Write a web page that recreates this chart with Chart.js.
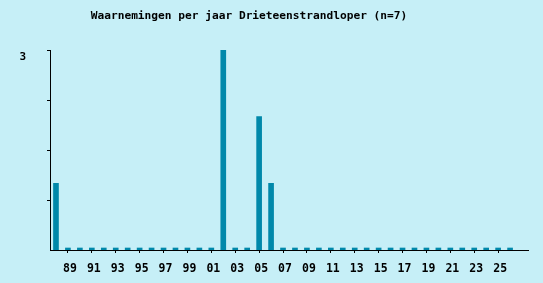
<!DOCTYPE html>
<html>
<head>
<meta charset="utf-8">
<script src="https://cdn.jsdelivr.net/npm/chart.js@4"></script>
<style>
html,body{margin:0;padding:0;background:#c6eff7;}
#wrap{width:543px;height:283px;position:relative;}
</style>
</head>
<body>
<div id="wrap"><canvas id="c" width="543" height="283"></canvas></div>
<script>
const titleText = 'Waarnemingen per jaar Drieteenstrandloper (n=7)';
const years = ['88','89','90','91','92','93','94','95','96','97','98','99','00','01','02','03','04','05','06','07','08','09','10','11','12','13','14','15','16','17','18','19','20','21','22','23','24','25','26','27'];
const counts = [1,0,0,0,0,0,0,0,0,0,0,0,0,0,3,0,0,2,1,0,0,0,0,0,0,0,0,0,0,0,0,0,0,0,0,0,0,0,0,null];
const xTickLabels = ['89','91','93','95','97','99','01','03','05','07','09','11','13','15','17','19','21','23','25'];
const yMax = 3;

const titlePlugin = {
  id: 'customTitle',
  afterDraw(chart) {
    const ctx = chart.ctx;
    ctx.save();
    ctx.font = 'bold 11.2px "DejaVu Sans Mono", monospace';
    ctx.fillStyle = '#000';
    ctx.textAlign = 'center';
    ctx.textBaseline = 'middle';
    ctx.fillText(titleText, 249, 16);
    ctx.restore();
  }
};

new Chart(document.getElementById('c'), {
  type: 'bar',
  data: {
    labels: years,
    datasets: [{
      data: counts,
      backgroundColor: '#0088aa',
      borderWidth: 0,
      barThickness: 5,
      minBarLength: 2
    }]
  },
  options: {
    responsive: false,
    animation: false,
    layout: { padding: { top: 50, right: 15, left: 0, bottom: 0 } },
    plugins: { legend: { display: false }, title: { display: false }, tooltip: { enabled: false } },
    scales: {
      x: {
        offset: true,
        border: { display: true, color: '#000', width: 1 },
        grid: { display: true, drawOnChartArea: false, drawTicks: true, tickLength: 3, color: '#000', offset: false },
        ticks: {
          autoSkip: false,
          maxRotation: 0,
          padding: 9,
          labelOffset: 2,
          color: '#000',
          font: { family: '"DejaVu Sans Mono", monospace', size: 11.5, weight: 'bold' },
          callback: function(v) {
            const l = this.getLabelForValue(v);
            return xTickLabels.includes(l) ? l : null;
          }
        },
        afterFit(s) { s.height = 33; }
      },
      y: {
        min: 0,
        max: yMax,
        border: { display: true, color: '#000', width: 1 },
        grid: { display: true, drawOnChartArea: false, drawTicks: true, tickLength: 3, color: '#000' },
        ticks: {
          stepSize: 0.75,
          padding: 21,
          labelOffset: 7,
          color: '#000',
          font: { family: '"DejaVu Sans Mono", monospace', size: 11, weight: 'bold' },
          callback: function(v) {
            if (v === 0) return null;
            return v === yMax ? String(yMax) : '';
          }
        },
        afterFit(s) { s.width = 50; }
      }
    }
  },
  plugins: [titlePlugin]
});
</script>
</body>
</html>
